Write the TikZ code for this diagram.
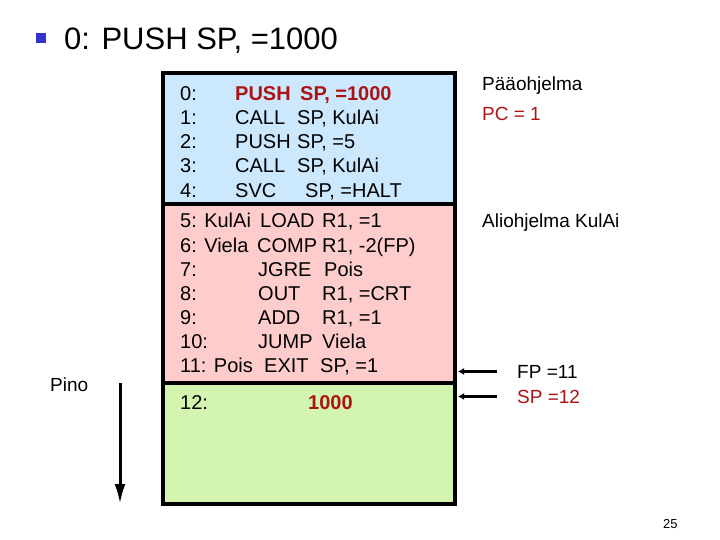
\documentclass[tikz,border=0pt]{standalone}
\usepackage{fontspec}
\setmainfont{Liberation Sans}
\usetikzlibrary{arrows.meta}
\definecolor{mainblue}{RGB}{204,232,255}
\definecolor{subred}{RGB}{255,204,204}
\definecolor{stackgreen}{RGB}{212,245,176}
\definecolor{darkred}{RGB}{170,20,20}
\definecolor{bulletblue}{RGB}{51,51,204}
\tikzset{
    code/.style={anchor=base west, inner sep=0pt, font=\fontsize{20}{24}\selectfont},
    hot/.style={code, text=darkred, font=\fontsize{20}{24}\selectfont\bfseries},
    side/.style={anchor=base west, inner sep=0pt, font=\fontsize{19}{23}\selectfont},
    memline/.style={draw=black, line width=3.5pt},
    ptr/.style={line width=3pt, -{Latex[length=6pt,width=7pt]}}
}
\begin{document}
\begin{tikzpicture}[x=1pt,y=-1pt]
    \useasboundingbox (0,0) rectangle (720,540);
    % Title
    \node[fill=bulletblue, minimum size=9.5pt, inner sep=0pt] (bullet) at (41,38) {};
    \node[anchor=base west, inner sep=0pt, font=\fontsize{31}{36}\selectfont] (title) at (64,50) {0: PUSH SP, =1000};
    % Memory areas
    \fill[mainblue] (163,73) rectangle (455,204);
    \fill[subred] (163,204) rectangle (455,383);
    \fill[stackgreen] (163,383) rectangle (455,504);
    \draw[memline] (163,73) rectangle (455,504);
    \draw[memline] (163,204) -- (455,204);
    \draw[memline] (163,383) -- (455,383);
    % Main program
    \node[code] (l0) at (180,101) {0:}; \node[hot] (o0) at (235,101) {PUSH}; \node[hot] (a0) at (300,101) {SP, =1000};
    \node[code] (l1) at (180,125) {1:}; \node[code] (o1) at (235,125) {CALL}; \node[code] (a1) at (297,125) {SP, KulAi};
    \node[code] (l2) at (180,149) {2:}; \node[code] (o2) at (235,149) {PUSH}; \node[code] (a2) at (297,149) {SP, =5};
    \node[code] (l3) at (180,173) {3:}; \node[code] (o3) at (235,173) {CALL}; \node[code] (a3) at (297,173) {SP, KulAi};
    \node[code] (l4) at (180,197) {4:}; \node[code] (o4) at (235,197) {SVC}; \node[code] (a4) at (305,197) {SP, =HALT};
    % Subroutine
    \node[code] (l5) at (180,228) {5: KulAi}; \node[code] (o5) at (260,228) {LOAD}; \node[code] (a5) at (322,228) {R1, =1};
    \node[code] (l6) at (180,252) {6: Viela}; \node[code] (o6) at (257,252) {COMP}; \node[code] (a6) at (322,252) {R1, -2(FP)};
    \node[code] (l7) at (180,276) {7:}; \node[code] (o7) at (258,276) {JGRE}; \node[code] (a7) at (324,276) {Pois};
    \node[code] (l8) at (180,300) {8:}; \node[code] (o8) at (258,300) {OUT}; \node[code] (a8) at (322,300) {R1, =CRT};
    \node[code] (l9) at (180,324) {9:}; \node[code] (o9) at (258,324) {ADD}; \node[code] (a9) at (322,324) {R1, =1};
    \node[code] (l10) at (180,348) {10:}; \node[code] (o10) at (258,348) {JUMP}; \node[code] (a10) at (322,348) {Viela};
    \node[code] (l11) at (180,372) {11: Pois}; \node[code] (o11) at (264,372) {EXIT}; \node[code] (a11) at (320,372) {SP, =1};
    % Stack
    \node[code] (l12) at (180,409) {12:}; \node[hot] (v12) at (308,409) {1000};
    % Labels on the right
    \node[side] (main) at (482,91) {Pääohjelma};
    \node[side, text=darkred] (pc) at (482,121) {PC = 1};
    \node[side] (sub) at (482,228) {Aliohjelma KulAi};
    \node[side] (fp) at (517,378) {FP =11};
    \node[side, text=darkred] (sp) at (517,403) {SP =12};
    \coordinate (fpat) at (458,372);
    \coordinate (spat) at (458,396);
    \draw[ptr] ([xshift=-20pt]fp.west) -- (fp.west -| fpat);
    \draw[ptr] ([xshift=-20pt]sp.west) -- (sp.west -| spat);
    % Stack direction
    \node[side] (pino) at (50,391) {Pino};
    \coordinate (pinotop) at (120,383);
    \coordinate (pinobot) at (120,504);
    \draw[line width=3pt, -{Latex[length=20pt,width=11pt]}] (pinotop) -- (pinobot);
    % Page number
    \node[anchor=base west, inner sep=0pt, font=\fontsize{13}{15}\selectfont] (page) at (663,528) {25};
\end{tikzpicture}
\end{document}
